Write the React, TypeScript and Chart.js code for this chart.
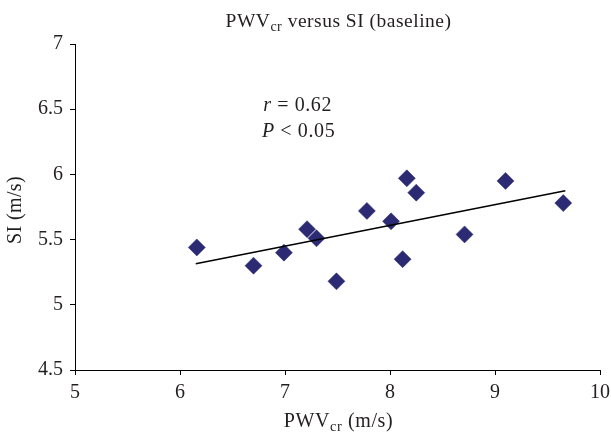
import React, { useEffect, useRef } from "react";
import { Chart, registerables } from "chart.js";

Chart.register(...registerables);

const pwvValues = [6.16, 6.7, 6.99, 7.21, 7.3, 7.49, 7.78, 8.01, 8.12, 8.16, 8.25, 8.71, 9.1, 9.65];
const siValues = [5.44, 5.3, 5.4, 5.58, 5.51, 5.18, 5.72, 5.64, 5.35, 5.97, 5.86, 5.54, 5.95, 5.78];
const trendX = [6.15, 9.67];
const trendY = [5.315, 5.875];
const xTicks = [5, 6, 7, 8, 9, 10];
const yTicks = [4.5, 5, 5.5, 6, 6.5, 7];

const FONT = "'Liberation Serif', 'DejaVu Serif', serif";
const TEXT = "#231f20";

type Seg = { t: string; sub?: boolean; italic?: boolean };

function setFont(ctx: CanvasRenderingContext2D, s: Seg, size: number, spacing: number) {
  const sz = s.sub ? size * 0.72 : size;
  ctx.font = `${s.italic ? "italic " : ""}${sz}px ${FONT}`;
  (ctx as any).letterSpacing = `${spacing}px`;
}

function segWidth(ctx: CanvasRenderingContext2D, segs: Seg[], size: number, spacing: number) {
  let w = 0;
  for (const s of segs) {
    setFont(ctx, s, size, spacing);
    w += ctx.measureText(s.t).width;
  }
  return w;
}

function drawSegs(ctx: CanvasRenderingContext2D, segs: Seg[], size: number, cx: number, baseline: number, spacing = 0) {
  const total = segWidth(ctx, segs, size, spacing);
  let x = cx - total / 2;
  ctx.textAlign = "left";
  ctx.textBaseline = "alphabetic";
  ctx.fillStyle = TEXT;
  for (const s of segs) {
    setFont(ctx, s, size, spacing);
    ctx.fillText(s.t, x, baseline + (s.sub ? size * 0.18 : 0));
    x += ctx.measureText(s.t).width;
  }
  (ctx as any).letterSpacing = "0px";
}

const textPlugin = {
  id: "customText",
  afterDraw(chart: any) {
    const ctx = chart.ctx as CanvasRenderingContext2D;
    const { left, right, top, bottom } = chart.chartArea;
    const xs = chart.scales.x;
    const ys = chart.scales.y;
    ctx.save();
    // title
    drawSegs(ctx, [{ t: "PWV" }, { t: "cr", sub: true }, { t: " versus SI (baseline)" }], 19.5, (left + right) / 2 + 1, 27, 0.5);
    // x axis title
    drawSegs(ctx, [{ t: "PWV" }, { t: "cr", sub: true }, { t: " (m/s)" }], 20, (left + right) / 2 + 1, 427, 0.6);
    // y axis title
    ctx.save();
    ctx.translate(21, 210);
    ctx.rotate(-Math.PI / 2);
    drawSegs(ctx, [{ t: "SI (m/s)" }], 20, 0, 0, 0.4);
    ctx.restore();
    // annotation
    const ax = xs.getPixelForValue(7.12);
    drawSegs(ctx, [{ t: "r", italic: true }, { t: " = 0.62" }], 20, ax, ys.getPixelForValue(6.485), 0.6);
    drawSegs(ctx, [{ t: "P", italic: true }, { t: " < 0.05" }], 20, ax + 1, ys.getPixelForValue(6.285), 0.6);
    ctx.restore();
  },
};

export default function App() {
  const ref = useRef<HTMLCanvasElement | null>(null);
  useEffect(() => {
    document.body.style.margin = "0";
    const canvas = ref.current;
    if (!canvas) return;
    const chart = new Chart(canvas, {
      type: "scatter",
      data: {
        datasets: [
          {
            label: "trend",
            data: trendX.map((x, i) => ({ x, y: trendY[i] })),
            showLine: true,
            borderColor: "#000000",
            borderWidth: 1.5,
            pointRadius: 0,
            fill: false,
          },
          {
            label: "SI",
            data: pwvValues.map((x, i) => ({ x, y: siValues[i] })),
            pointStyle: "rectRot",
            pointRadius: 8.5,
            pointHoverRadius: 8.5,
            backgroundColor: "#2b2a72",
            borderColor: "#2b2a72",
            borderWidth: 0.5,
          },
        ],
      },
      options: {
        animation: false,
        responsive: false,
        events: [],
        layout: { padding: { left: 0, right: 11, top: 44, bottom: 0 } },
        plugins: { legend: { display: false }, tooltip: { enabled: false }, title: { display: false } },
        scales: {
          x: {
            type: "linear",
            min: 5,
            max: 10,
            afterBuildTicks: (s: any) => {
              s.ticks = xTicks.map((v) => ({ value: v }));
            },
            afterFit: (s: any) => {
              s.height = 65;
              s.paddingLeft = 0;
              s.paddingRight = 0;
            },
            grid: { display: true, drawOnChartArea: false, drawTicks: true, tickLength: 5, color: "#000000", lineWidth: 1 },
            border: { display: true, color: "#000000", width: 1 },
            ticks: {
              color: TEXT,
              font: { family: FONT, size: 20 },
              padding: 6,
              maxRotation: 0,
              callback: (v: any) => String(v),
            },
          },
          y: {
            type: "linear",
            min: 4.5,
            max: 7,
            afterBuildTicks: (s: any) => {
              s.ticks = yTicks.map((v) => ({ value: v }));
            },
            afterFit: (s: any) => {
              s.width = 75;
              s.paddingTop = 0;
              s.paddingBottom = 0;
            },
            grid: { display: true, drawOnChartArea: false, drawTicks: true, tickLength: 5, color: "#000000", lineWidth: 1 },
            border: { display: true, color: "#000000", width: 1 },
            ticks: {
              color: TEXT,
              font: { family: FONT, size: 20 },
              padding: 7,
              callback: (v: any) => String(v),
            },
          },
        },
      },
      plugins: [textPlugin],
    });
    return () => chart.destroy();
  }, []);
  return (
    <div style={{ width: 611, height: 435 }}>
      <canvas ref={ref} width={611} height={435} style={{ display: "block" }} />
    </div>
  );
}
